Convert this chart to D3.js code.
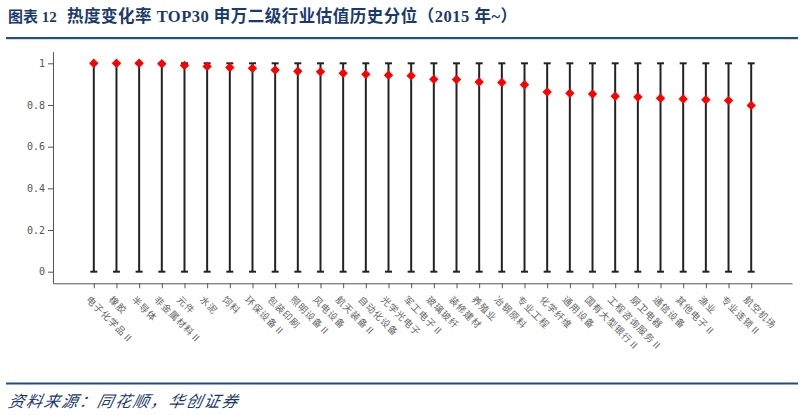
<!DOCTYPE html>
<html><head><meta charset="utf-8">
<script src="https://cdn.jsdelivr.net/npm/d3@7"></script>
<style>
html,body{margin:0;padding:0;background:#fff;}
svg{display:block;}
</style></head>
<body>
<svg id="chart" width="804" height="415"></svg>
<script>
const categories = ["电子化学品Ⅱ","橡胶","半导体","非金属材料Ⅱ","元件","水泥","饲料","环保设备Ⅱ","包装印刷","照明设备Ⅱ","风电设备","航天装备Ⅱ","自动化设备","光学光电子","军工电子Ⅱ","玻璃玻纤","装修建材","养殖业","冶钢原料","专业工程","化学纤维","通用设备","国有大型银行Ⅱ","工程咨询服务Ⅱ","厨卫电器","通信设备","其他电子Ⅱ","渔业","专业连锁Ⅱ","航空机场"];
const percentile = [1.0,1.0,1.0,0.998,0.99,0.985,0.98,0.976,0.968,0.962,0.959,0.952,0.947,0.943,0.94,0.923,0.922,0.91,0.908,0.897,0.862,0.856,0.853,0.842,0.838,0.832,0.829,0.825,0.821,0.798];
const rangeMin = categories.map(() => 0);
const rangeMax = categories.map(() => 1);
const yTicks = [0,0.2,0.4,0.6,0.8,1];
const titleLead = "图表 12";
const titleText = "热度变化率 TOP30 申万二级行业估值历史分位（2015 年~）";
const sourceText = "资料来源：同花顺，华创证券";

const svg = d3.select("#chart");
const blue = "#1a3a6e";
const titleFont = "'Liberation Serif','Noto Sans CJK SC',serif";

// title
svg.append("text").attr("x", 8).attr("y", 22)
  .attr("font-family", titleFont)
  .attr("font-weight", "bold").attr("font-size", 15).attr("fill", blue)
  .text(titleLead);
svg.append("text").attr("x", 67).attr("y", 22)
  .attr("font-family", titleFont)
  .attr("font-weight", "bold").attr("font-size", 16.5).attr("fill", blue)
  .attr("letter-spacing", 0.5)
  .text(titleText);
svg.append("rect").attr("x", 6).attr("y", 37).attr("width", 792).attr("height", 2.2).attr("fill", "#1f4e8c");
svg.append("rect").attr("x", 6).attr("y", 382.5).attr("width", 792).attr("height", 2).attr("fill", "#1f4e8c");
svg.append("text").attr("x", 8).attr("y", 407)
  .attr("font-family", "'Noto Sans CJK SC',sans-serif")
  .attr("font-style", "italic").attr("font-size", 16).attr("fill", blue)
  .attr("letter-spacing", 1.8)
  .attr("transform", "skewX(-12) translate(86,0)")
  .text(sourceText);

const x = d3.scalePoint().domain(categories).range([53, 792]).padding(1.8);
const y = d3.scaleLinear().domain([-0.0557, 1.0557]).range([283.3, 51.7]);

const axisColor = "#555";
const gx = svg.append("g").attr("transform", "translate(0,283.3)")
  .call(d3.axisBottom(x).tickSize(5).tickSizeOuter(0).tickFormat(""));
gx.selectAll("path,line").attr("stroke", axisColor);
gx.selectAll(".tick text").remove();
categories.forEach((c) => {
  svg.append("text")
    .attr("transform", `translate(${x(c) - 2},${294}) rotate(45)`)
    .attr("font-family", "'Noto Sans CJK SC',sans-serif")
    .attr("font-size", 9.5).attr("fill", "#666")
    .attr("letter-spacing", 0.8)
    .attr("dominant-baseline", "hanging")
    .text(c);
});

const gy = svg.append("g").attr("transform", "translate(53,0)")
  .call(d3.axisLeft(y).tickValues(yTicks).tickSize(5).tickSizeOuter(0).tickFormat(d => d3.format("~g")(d)));
gy.selectAll("path,line").attr("stroke", axisColor);
gy.selectAll("text").attr("font-family", "'DejaVu Sans Mono','Liberation Mono',monospace")
  .attr("font-size", 10).attr("fill", "#555");

// stems
const stems = svg.append("g");
categories.forEach((c, i) => {
  const cx = x(c);
  stems.append("line").attr("x1", cx).attr("x2", cx).attr("y1", y(rangeMin[i])).attr("y2", y(rangeMax[i]))
    .attr("stroke", "#222").attr("stroke-width", 2);
  [rangeMin[i], rangeMax[i]].forEach(v => {
    stems.append("line").attr("x1", cx - 3.5).attr("x2", cx + 3.5).attr("y1", y(v)).attr("y2", y(v))
      .attr("stroke", "#222").attr("stroke-width", 2);
  });
});

// markers
const sym = d3.symbol().type(d3.symbolSquare).size(44);
svg.append("g").selectAll("path").data(categories).join("path")
  .attr("d", sym)
  .attr("transform", (c, i) => `translate(${x(c)},${y(percentile[i])}) rotate(45)`)
  .attr("fill", "#ff0000");
</script>
</body></html>
